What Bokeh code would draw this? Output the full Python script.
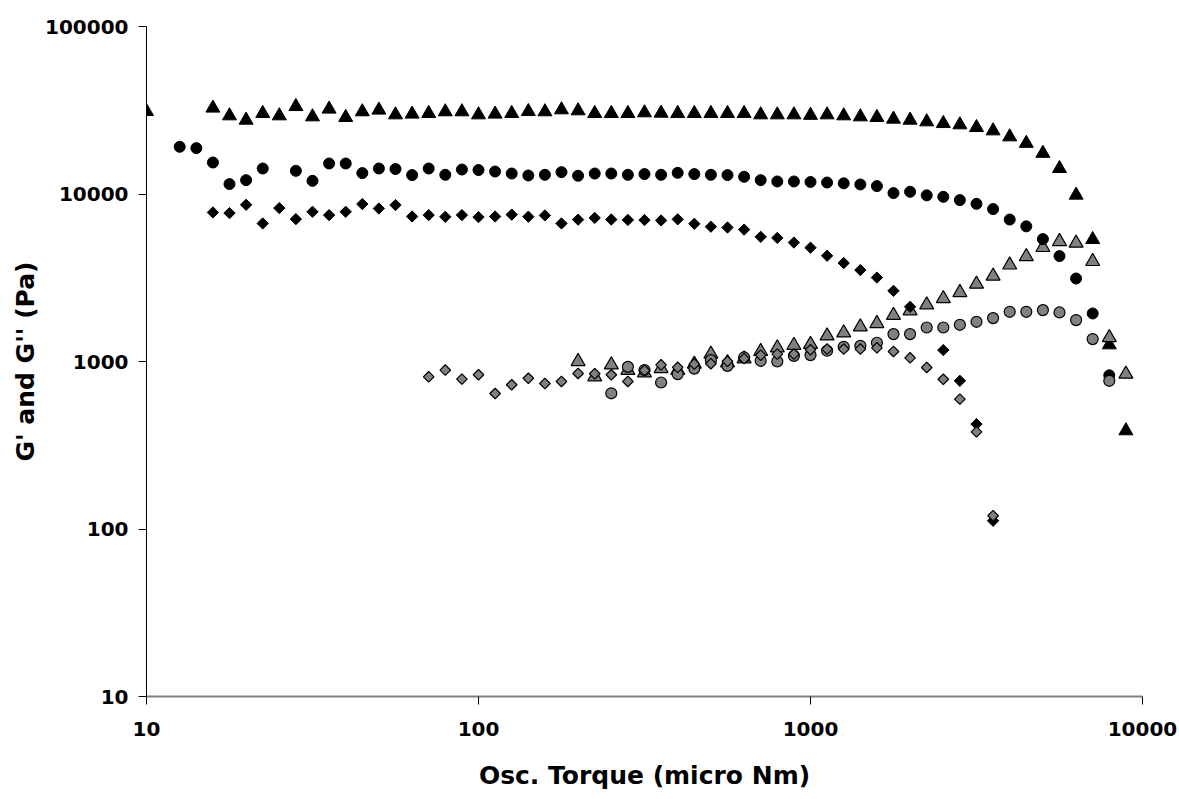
import numpy as np
from bokeh.plotting import figure
from bokeh.models import Range1d, FixedTicker, PrintfTickFormatter
from bokeh.embed import file_html
from bokeh.resources import INLINE

# ---- data ----
x_ticks = [10, 100, 1000, 10000]
y_ticks = [10, 100, 1000, 10000, 100000]

# Series 1 (triangles)
tri_g1_x = [10.0, 15.85, 17.78, 19.95, 22.39, 25.12, 28.18, 31.62, 35.48, 39.81, 44.67,
            50.12, 56.23, 63.10, 70.79, 79.43, 89.13, 100.0, 112.2, 125.9, 141.3, 158.5,
            177.8, 199.5, 223.9, 251.2, 281.8, 316.2, 354.8, 398.1, 446.7, 501.2, 562.3,
            631.0, 707.9, 794.3, 891.3, 1000, 1122, 1259, 1413, 1585, 1778, 1995, 2239,
            2512, 2818, 3162, 3548, 3981, 4467, 5012, 5623, 6310, 7079, 7943, 8913]
tri_g1_y = [31080, 32580, 29300, 27600, 30260, 29300, 33300, 28900, 32140, 28640, 30970,
            31700, 29700, 30000, 30260, 30970, 30970, 29700, 30000, 30260, 31080, 30970,
            31820, 31400, 30260, 30260, 30260, 30540, 30400, 30260, 30260, 30260, 30260,
            30260, 29700, 29700, 29700, 29500, 29700, 29300, 28900, 28640, 28000, 27600,
            26980, 26360, 25900, 24950, 23830, 21950, 20080, 17500, 14200, 9850, 5350,
            1258, 386]
tri_g2_x = [199.5, 223.9, 251.2, 281.8, 316.2, 354.8, 398.1, 446.7, 501.2, 562.3, 631.0,
            707.9, 794.3, 891.3, 1000, 1122, 1259, 1413, 1585, 1778, 1995, 2239, 2512,
            2818, 3162, 3548, 3981, 4467, 5012, 5623, 6310, 7079, 7943, 8913]
tri_g2_y = [1000, 811, 955, 886, 856, 908, 886, 965, 1107, 983, 1038, 1148, 1207, 1250,
            1267, 1423, 1483, 1610, 1686, 1888, 2008, 2180, 2377, 2582, 2897, 3235, 3770,
            4230, 4795, 5205, 5090, 3955, 1390, 841]

# Series 2 (circles)
cir_g1_x = [12.59, 14.13, 15.85, 17.78, 19.95, 22.39, 28.18, 31.62, 35.48, 39.81, 44.67,
            50.12, 56.23, 63.10, 70.79, 79.43, 89.13, 100.0, 112.2, 125.9, 141.3, 158.5,
            177.8, 199.5, 223.9, 251.2, 281.8, 316.2, 354.8, 398.1, 446.7, 501.2, 562.3,
            631.0, 707.9, 794.3, 891.3, 1000, 1122, 1259, 1413, 1585, 1778, 1995, 2239,
            2512, 2818, 3162, 3548, 3981, 4467, 5012, 5623, 6310, 7079, 7943]
cir_g1_y = [19140, 18790, 15420, 11460, 12100, 14200, 13750, 11990, 15210, 15210, 13330,
            14200, 14100, 12970, 14200, 13020, 14000, 13900, 13620, 13250, 12900, 13020,
            13500, 12850, 13250, 13250, 13020, 13150, 13020, 13380, 13150, 13020, 12970,
            12670, 12100, 11880, 11880, 11800, 11710, 11580, 11400, 11150, 10125, 10310,
            9820, 9620, 9200, 8740, 8130, 7040, 6410, 5380, 4260, 3130, 1935, 827]
cir_g2_x = [251.2, 281.8, 316.2, 354.8, 398.1, 446.7, 501.2, 562.3, 631.0, 707.9, 794.3,
            891.3, 1000, 1122, 1259, 1413, 1585, 1778, 1995, 2239, 2512, 2818, 3162, 3548,
            3981, 4467, 5012, 5623, 6310, 7079, 7943]
cir_g2_y = [646, 929, 889, 749, 841, 907, 1019, 942, 1057, 1010, 1000, 1081, 1092, 1159,
            1224, 1241, 1294, 1457, 1457, 1596, 1596, 1656, 1726, 1816, 1980, 1980, 2027,
            1962, 1767, 1361, 767]

# Series 3 (diamonds)
dia_g1_x = [15.85, 17.78, 19.95, 22.39, 25.12, 28.18, 31.62, 35.48, 39.81, 44.67, 50.12,
            56.23, 63.10, 70.79, 79.43, 89.13, 100.0, 112.2, 125.9, 141.3, 158.5, 177.8,
            199.5, 223.9, 251.2, 281.8, 316.2, 354.8, 398.1, 446.7, 501.2, 562.3, 631.0,
            707.9, 794.3, 891.3, 1000, 1122, 1259, 1413, 1585, 1778, 1995, 2512, 2818,
            3162, 3548]
dia_g1_y = [7760, 7690, 8620, 6670, 8240, 7080, 7830, 7480, 7830, 8710, 8190, 8590, 7340,
            7480, 7310, 7480, 7280, 7340, 7530, 7320, 7450, 6670, 7030, 7200, 7040, 7000,
            6990, 6950, 7060, 6640, 6380, 6310, 6130, 5550, 5470, 5130, 4780, 4280, 3870,
            3515, 3170, 2643, 2120, 1170, 767, 423, 112]
dia_g2_x = [70.79, 79.43, 89.13, 100.0, 112.2, 125.9, 141.3, 158.5, 177.8, 199.5, 223.9,
            251.2, 281.8, 316.2, 354.8, 398.1, 446.7, 501.2, 562.3, 631.0, 707.9, 794.3,
            891.3, 1000, 1122, 1259, 1413, 1585, 1778, 1995, 2239, 2512, 2818, 3162, 3548]
dia_g2_y = [810, 889, 785, 833, 644, 726, 794, 739, 760, 848, 845, 833, 760, 886, 955,
            923, 965, 970, 1003, 1040, 1090, 1107, 1107, 1175, 1186, 1186, 1186, 1207,
            1148, 1052, 921, 783, 596, 380, 120]

FONT = "DejaVu Sans"
GRAY = "#808080"

p = figure(width=1179, height=799, x_axis_type="log", y_axis_type="log",
           x_range=Range1d(10, 10000), y_range=Range1d(10, 100000),
           output_backend="svg", toolbar_location=None,
           min_border_left=146, min_border_right=37, min_border_top=26,
           min_border_bottom=103)
p.outline_line_color = None
p.xgrid.visible = False
p.ygrid.visible = False
p.background_fill_color = "white"
p.border_fill_color = "white"

# markers (drawing order: triangles, circles, diamonds; black then gray)
p.scatter(tri_g1_x, tri_g1_y, marker="triangle", size=14, fill_color="black", line_color="black")
p.scatter(tri_g2_x, tri_g2_y, marker="triangle", size=14, fill_color=GRAY, line_color="black", line_width=1.2)
p.scatter(cir_g1_x, cir_g1_y, marker="circle", size=11, fill_color="black", line_color="black")
p.scatter(cir_g2_x, cir_g2_y, marker="circle", size=11, fill_color=GRAY, line_color="black", line_width=1.2)
p.scatter(dia_g1_x, dia_g1_y, marker="square", angle=np.pi / 4, size=8, fill_color="black", line_color="black")
p.scatter(dia_g2_x, dia_g2_y, marker="square", angle=np.pi / 4, size=7.5, fill_color=GRAY, line_color="black", line_width=1.2)

for ax, ticks in ((p.xaxis, x_ticks), (p.yaxis, y_ticks)):
    ax.ticker = FixedTicker(ticks=ticks, minor_ticks=[])
    ax.formatter = PrintfTickFormatter(format="%d")
    ax.major_label_text_font = FONT
    ax.major_label_text_font_style = "bold"
    ax.major_label_text_font_size = "20px"
    ax.major_label_text_color = "black"
    ax.axis_label_text_font = FONT
    ax.axis_label_text_font_style = "bold"
    ax.axis_label_text_font_size = "25px"
    ax.axis_label_text_color = "black"
    ax.major_tick_out = 8
    ax.major_tick_in = 0
    ax.minor_tick_out = 0
    ax.minor_tick_in = 0
    ax.major_tick_line_color = "black"

p.xaxis.axis_label = "Osc. Torque (micro Nm)"
p.yaxis.axis_label = "G' and G'' (Pa)"
p.xaxis.axis_line_color = GRAY
p.xaxis.axis_line_width = 2
p.yaxis.axis_line_color = "black"
p.yaxis.axis_line_width = 1
p.xaxis.major_label_standoff = 17
p.xaxis.axis_label_standoff = 22
p.yaxis.major_label_standoff = 10
p.yaxis.axis_label_standoff = 2

open("out.html", "w").write(file_html(p, INLINE))
